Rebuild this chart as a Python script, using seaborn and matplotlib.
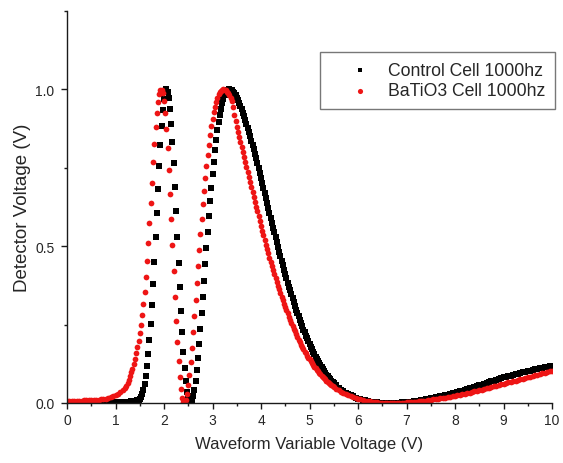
import matplotlib
matplotlib.use("Agg")
import matplotlib.pyplot as plt
from matplotlib.ticker import MultipleLocator, FormatStrFormatter
import pandas as pd
import seaborn as sns

# Sweep voltages (V): 0.05 V steps at the ends, 0.025 V steps through the steep fringes
voltage_low = [0.00, 0.05, 0.10, 0.15, 0.20, 0.25, 0.30, 0.35, 0.40, 0.45, 0.50, 0.55,
               0.60, 0.65, 0.70, 0.75, 0.80, 0.85, 0.90, 0.95, 1.00, 1.05, 1.10, 1.15, 1.20]
voltage_mid = [1.225, 1.250, 1.275, 1.300, 1.325, 1.350, 1.375, 1.400, 1.425, 1.450, 1.475, 1.500,
               1.525, 1.550, 1.575, 1.600, 1.625, 1.650, 1.675, 1.700, 1.725, 1.750, 1.775, 1.800,
               1.825, 1.850, 1.875, 1.900, 1.925, 1.950, 1.975, 2.000, 2.025, 2.050, 2.075, 2.100,
               2.125, 2.150, 2.175, 2.200, 2.225, 2.250, 2.275, 2.300, 2.325, 2.350, 2.375, 2.400,
               2.425, 2.450, 2.475, 2.500, 2.525, 2.550, 2.575, 2.600, 2.625, 2.650, 2.675, 2.700,
               2.725, 2.750, 2.775, 2.800, 2.825, 2.850, 2.875, 2.900, 2.925, 2.950, 2.975, 3.000,
               3.025, 3.050, 3.075, 3.100, 3.125, 3.150, 3.175, 3.200, 3.225, 3.250, 3.275, 3.300,
               3.325, 3.350, 3.375, 3.400, 3.425, 3.450, 3.475, 3.500, 3.525, 3.550, 3.575, 3.600,
               3.625, 3.650, 3.675, 3.700, 3.725, 3.750, 3.775, 3.800, 3.825, 3.850, 3.875, 3.900,
               3.925, 3.950, 3.975, 4.000, 4.025, 4.050, 4.075, 4.100, 4.125, 4.150, 4.175, 4.200,
               4.225, 4.250, 4.275, 4.300, 4.325, 4.350, 4.375, 4.400, 4.425, 4.450, 4.475, 4.500,
               4.525, 4.550, 4.575, 4.600, 4.625, 4.650, 4.675, 4.700, 4.725, 4.750, 4.775, 4.800,
               4.825, 4.850, 4.875, 4.900, 4.925, 4.950, 4.975, 5.000, 5.025, 5.050, 5.075, 5.100,
               5.125, 5.150, 5.175, 5.200, 5.225, 5.250, 5.275, 5.300, 5.325, 5.350, 5.375, 5.400,
               5.425, 5.450, 5.475, 5.500]
voltage_high = [5.55, 5.60, 5.65, 5.70, 5.75, 5.80, 5.85, 5.90, 5.95, 6.00, 6.05, 6.10, 6.15,
                6.20, 6.25, 6.30, 6.35, 6.40, 6.45, 6.50, 6.55, 6.60, 6.65, 6.70, 6.75, 6.80,
                6.85, 6.90, 6.95, 7.00, 7.05, 7.10, 7.15, 7.20, 7.25, 7.30, 7.35, 7.40, 7.45,
                7.50, 7.55, 7.60, 7.65, 7.70, 7.75, 7.80, 7.85, 7.90, 7.95, 8.00, 8.05, 8.10,
                8.15, 8.20, 8.25, 8.30, 8.35, 8.40, 8.45, 8.50, 8.55, 8.60, 8.65, 8.70, 8.75,
                8.80, 8.85, 8.90, 8.95, 9.00, 9.05, 9.10, 9.15, 9.20, 9.25, 9.30, 9.35, 9.40,
                9.45, 9.50, 9.55, 9.60, 9.65, 9.70, 9.75, 9.80, 9.85, 9.90, 9.95, 10.00]

# Detector voltage (V), control cell
control_low = [0.002] * 25
control_mid = [0.002, 0.003, 0.003, 0.004, 0.005, 0.005, 0.005, 0.006, 0.007, 0.008, 0.010, 0.014,
               0.019, 0.028, 0.042, 0.061, 0.086, 0.117, 0.155, 0.201, 0.253, 0.313, 0.379, 0.451,
               0.528, 0.606, 0.682, 0.756, 0.824, 0.883, 0.933, 0.970, 0.992, 1.000, 0.993, 0.971,
               0.936, 0.889, 0.831, 0.764, 0.689, 0.611, 0.530, 0.448, 0.369, 0.293, 0.225, 0.164,
               0.111, 0.069, 0.036, 0.014, 0.003, 0.000, 0.006, 0.021, 0.043, 0.071, 0.106, 0.145,
               0.189, 0.237, 0.286, 0.337, 0.389, 0.443, 0.495, 0.545, 0.595, 0.643, 0.687, 0.730,
               0.769, 0.806, 0.840, 0.869, 0.896, 0.919, 0.939, 0.956, 0.970, 0.981, 0.989, 0.995,
               0.999, 1.000, 0.999, 0.997, 0.993, 0.988, 0.982, 0.974, 0.966, 0.957, 0.947, 0.936,
               0.926, 0.915, 0.902, 0.890, 0.877, 0.864, 0.851, 0.837, 0.823, 0.809, 0.795, 0.780,
               0.764, 0.749, 0.733, 0.718, 0.702, 0.686, 0.670, 0.655, 0.639, 0.623, 0.607, 0.590,
               0.575, 0.559, 0.544, 0.528, 0.513, 0.498, 0.483, 0.469, 0.454, 0.439, 0.425, 0.411,
               0.398, 0.384, 0.371, 0.359, 0.346, 0.334, 0.322, 0.310, 0.298, 0.287, 0.276, 0.265,
               0.255, 0.244, 0.234, 0.225, 0.215, 0.206, 0.197, 0.188, 0.179, 0.171, 0.163, 0.155,
               0.148, 0.140, 0.133, 0.126, 0.120, 0.114, 0.108, 0.102, 0.096, 0.090, 0.0855, 0.081,
               0.076, 0.071, 0.067, 0.063]
control_high = [0.056, 0.049, 0.043, 0.038, 0.033, 0.028, 0.024, 0.021, 0.017, 0.014, 0.012, 0.010,
                0.008, 0.006, 0.0045, 0.0033, 0.0023, 0.0016, 0.0009, 0.0005, 0.0002, 0.0000,
                0.0000, 0.0001, 0.0003, 0.0006, 0.0011, 0.0016, 0.0023, 0.0030, 0.0038, 0.0047,
                0.0057, 0.0067, 0.0079, 0.0091, 0.0104, 0.0118, 0.0133, 0.0148, 0.0164, 0.0180,
                0.0197, 0.0215, 0.0233, 0.0252, 0.0271, 0.0291, 0.0312, 0.0333, 0.0354, 0.0375,
                0.0398, 0.0420, 0.0443, 0.0466, 0.0490, 0.0514, 0.0538, 0.0562, 0.0586, 0.0611,
                0.0636, 0.0661, 0.0686, 0.0712, 0.0738, 0.0763, 0.0790, 0.0816, 0.0835, 0.0855,
                0.0874, 0.0894, 0.0914, 0.0935, 0.0955, 0.0976, 0.0996, 0.1017, 0.1034, 0.1051,
                0.1069, 0.1086, 0.1103, 0.1121, 0.1138, 0.1156, 0.1174, 0.1192]

# Detector voltage (V), BaTiO3-doped cell
batio3_low = [0.007, 0.007, 0.007, 0.007, 0.007, 0.007, 0.007, 0.008, 0.008, 0.008, 0.009, 0.009,
              0.010, 0.011, 0.012, 0.013, 0.014, 0.016, 0.018, 0.021, 0.025, 0.029, 0.034, 0.040, 0.047]
batio3_mid = [0.055, 0.064, 0.074, 0.085, 0.098, 0.110, 0.125, 0.140, 0.158, 0.177, 0.199, 0.223,
              0.250, 0.281, 0.316, 0.355, 0.401, 0.453, 0.511, 0.573, 0.638, 0.703, 0.767, 0.825,
              0.879, 0.924, 0.960, 0.984, 0.998, 0.999, 0.987, 0.962, 0.924, 0.874, 0.813, 0.744,
              0.668, 0.587, 0.503, 0.420, 0.339, 0.262, 0.194, 0.133, 0.083, 0.044, 0.017, 0.003,
              0.001, 0.010, 0.029, 0.056, 0.090, 0.131, 0.176, 0.225, 0.276, 0.329, 0.382, 0.436,
              0.488, 0.538, 0.587, 0.633, 0.676, 0.718, 0.756, 0.791, 0.824, 0.855, 0.882, 0.906,
              0.927, 0.945, 0.961, 0.974, 0.984, 0.991, 0.996, 0.999, 1.000, 0.999, 0.997, 0.993,
              0.988, 0.982, 0.974, 0.962, 0.943, 0.918, 0.898, 0.881, 0.864, 0.849, 0.832, 0.816,
              0.800, 0.784, 0.768, 0.752, 0.736, 0.721, 0.705, 0.689, 0.673, 0.658, 0.642, 0.626,
              0.611, 0.595, 0.580, 0.564, 0.550, 0.535, 0.520, 0.505, 0.491, 0.477, 0.463, 0.449,
              0.436, 0.424, 0.411, 0.398, 0.386, 0.374, 0.362, 0.350, 0.339, 0.327, 0.317, 0.306,
              0.296, 0.286, 0.275, 0.265, 0.255, 0.246, 0.237, 0.228, 0.219, 0.210, 0.202, 0.194,
              0.186, 0.179, 0.171, 0.164, 0.158, 0.151, 0.145, 0.139, 0.133, 0.127, 0.1215, 0.116,
              0.111, 0.106, 0.101, 0.0965, 0.092, 0.0874, 0.083, 0.0788, 0.075, 0.0710, 0.067, 0.0635,
              0.060, 0.0569, 0.054, 0.0506]
batio3_high = [0.0452, 0.0403, 0.0358, 0.0316, 0.0278, 0.0244, 0.0212, 0.0184, 0.0158, 0.0135,
               0.0114, 0.0095, 0.0077, 0.0062, 0.0049, 0.0038, 0.0028, 0.0020, 0.0013, 0.0008,
               0.0004, 0.0002, 0.0000, 0.0000, 0.0001, 0.0003, 0.0005, 0.0009, 0.0013, 0.0019,
               0.0024, 0.0030, 0.0036, 0.0044, 0.0052, 0.0060, 0.0069, 0.0079, 0.0090, 0.0101,
               0.0112, 0.0123, 0.0135, 0.0147, 0.0160, 0.0174, 0.0187, 0.0202, 0.0217, 0.0232,
               0.0248, 0.0264, 0.0280, 0.0297, 0.0315, 0.0333, 0.0351, 0.0370, 0.0389, 0.0409,
               0.0428, 0.0447, 0.0467, 0.0487, 0.0508, 0.0528, 0.0550, 0.0571, 0.0593, 0.0616,
               0.0635, 0.0655, 0.0675, 0.0695, 0.0716, 0.0737, 0.0758, 0.0779, 0.0801, 0.0823,
               0.0843, 0.0864, 0.0884, 0.0905, 0.0926, 0.0948, 0.0969, 0.0991, 0.1013, 0.1035]

series_labels = ["Control Cell 1000hz", "BaTiO3 Cell 1000hz"]
series_colors = ["#000000", "#ee1515"]
series_markers = ["s", "o"]

voltage = voltage_low + voltage_mid + voltage_high
control = control_low + control_mid + control_high
batio3 = batio3_low + batio3_mid + batio3_high
assert len(voltage) == len(control) == len(batio3)

df = pd.DataFrame({
    "voltage": voltage * 2,
    "detector": control + batio3,
    "cell": [series_labels[0]] * len(control) + [series_labels[1]] * len(batio3),
})

sns.set_style("ticks")
plt.rcParams["font.family"] = ["Liberation Sans", "DejaVu Sans"]
text_color = "#262626"

W, H = 563, 464
fig = plt.figure(figsize=(W / 100, H / 100), dpi=100)
ax = fig.add_axes([67 / W, 60 / H, 485 / W, 392 / H])

# control cell first so the doped-cell points sit on top where they overlap
for label, color, marker, size in zip(series_labels, series_colors, series_markers, [14, 17]):
    sns.scatterplot(data=df[df["cell"] == label], x="voltage", y="detector",
                    color=color, marker=marker, s=size, linewidth=0, label=label,
                    ax=ax, legend=False)

ax.set_xlim(0, 10)
ax.set_ylim(0, 1.25)
ax.xaxis.set_major_locator(MultipleLocator(1))
ax.xaxis.set_minor_locator(MultipleLocator(0.5))
ax.yaxis.set_major_locator(MultipleLocator(0.5))
ax.yaxis.set_minor_locator(MultipleLocator(0.25))
ax.yaxis.set_major_formatter(FormatStrFormatter("%.1f"))

for side in ["top", "right"]:
    ax.spines[side].set_visible(False)
for side in ["left", "bottom"]:
    ax.spines[side].set_linewidth(1.0)
    ax.spines[side].set_color("#1a1a1a")

ax.tick_params(which="major", direction="out", length=4, width=1.0, color="#1a1a1a",
               labelsize=10, labelcolor=text_color)
ax.tick_params(which="minor", direction="out", length=2.5, width=1.0, color="#1a1a1a")
ax.tick_params(axis="x", which="major", pad=3)
ax.tick_params(axis="y", which="major", pad=5)

ax.set_xlabel("Waveform Variable Voltage (V)", fontsize=12, color=text_color, labelpad=7)
ax.set_ylabel("Detector Voltage (V)", fontsize=13.5, color=text_color, labelpad=3)

leg = ax.legend(loc="upper left", bbox_to_anchor=(320 / W, 1 - 53 / H),
                bbox_transform=fig.transFigure, borderaxespad=0, frameon=True,
                fancybox=False, edgecolor="#555555", fontsize=12.7, scatterpoints=1,
                handlelength=3.4, handletextpad=-0.1, borderpad=0.55, labelspacing=0.2,
                markerscale=0.9)
leg.get_frame().set_linewidth(1.0)
for t in leg.get_texts():
    t.set_color(text_color)

fig.savefig("out.png", dpi=100)
